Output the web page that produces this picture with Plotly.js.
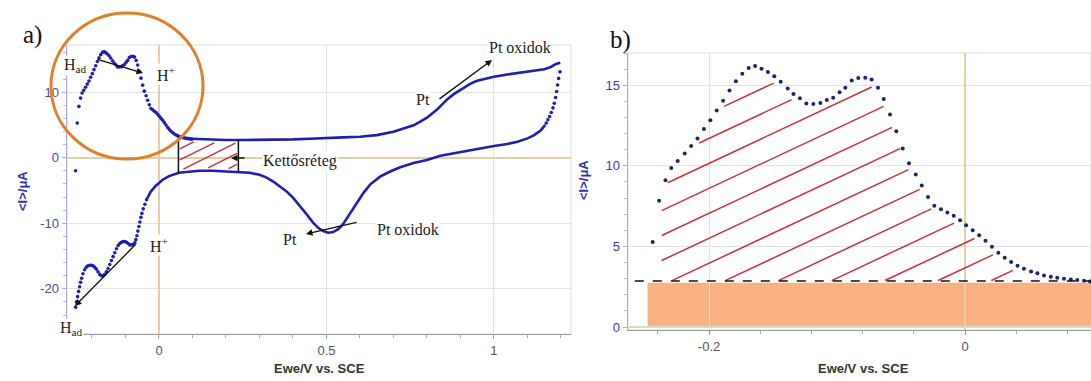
<!DOCTYPE html>
<html><head><meta charset="utf-8">
<script src="https://cdn.plot.ly/plotly-3.0.1.min.js"></script>
<style>html,body{margin:0;padding:0;background:#fff;}#chart{width:1091px;height:381px;}</style>
</head><body><div id="chart"></div>
<script>
// ---------- DATA ----------
// Hydrogen region of the anodic (upper) branch: V vs SCE, current in µA (panel b, also used in panel a)
const hUpV = [-0.244,-0.239,-0.234,-0.2295,-0.2245,-0.219,-0.214,-0.209,-0.204,-0.199,-0.194,-0.189,-0.184,-0.179,-0.174,-0.169,-0.164,-0.159,-0.154,-0.149,-0.144,-0.1385,-0.134,-0.129,-0.124,-0.1185,-0.113,-0.108,-0.103,-0.098,-0.0935,-0.0885,-0.0834,-0.078,-0.073,-0.068,-0.0635,-0.0586,-0.0537,-0.0487,-0.0438,-0.0385,-0.0338,-0.0289,-0.024,-0.0188,-0.0138,-0.0088,-0.0039,0.0008,0.006,0.011,0.016,0.021,0.026,0.031,0.036,0.041,0.046,0.0516,0.0565,0.0617,0.067,0.072,0.0773,0.0826,0.0877,0.093,0.0977];
const hUpI = [5.28,7.83,9.1,9.87,10.3,10.76,11.23,11.7,12.29,12.83,13.44,14.04,14.68,15.24,15.72,16.07,16.19,16.03,15.82,15.55,15.22,14.79,14.45,14.19,13.86,13.84,13.9,14.08,14.23,14.56,14.85,15.3,15.45,15.47,15.35,14.85,14.15,13.18,12.14,11.07,10.16,9.46,8.78,8.07,7.52,7.31,7.1,6.9,6.63,6.32,6.01,5.7,5.35,4.98,4.6,4.29,4.03,3.8,3.61,3.45,3.33,3.2,3.12,3.05,2.99,2.95,2.91,2.87,2.83];

// Panel a: first point after the reversal at the negative end
const aStartV = [-0.249];
const aStartI = [-2.0];
// Panel a: anodic branch, double layer + Pt oxide formation
const aUpV = [0.095,0.12,0.16,0.2,0.25,0.3,0.35,0.4,0.45,0.5,0.55,0.6,0.65,0.7,0.73,0.76,0.78,0.8,0.83,0.86,0.88,0.9,0.93,0.95,0.975,1.0,1.04,1.08,1.12,1.15,1.17,1.185,1.198];
const aUpI = [2.9,2.85,2.75,2.7,2.7,2.7,2.75,2.8,2.9,2.95,3.1,3.2,3.45,3.95,4.4,4.95,5.5,6.1,7.35,8.9,9.7,10.35,11.3,11.75,12.1,12.35,12.7,12.95,13.25,13.5,13.85,14.3,14.5];
// Panel a: points just after the positive reversal
const aTurnV = [1.197,1.193,1.19,1.187,1.184,1.18,1.176,1.171,1.166,1.161,1.156];
const aTurnI = [13.1,12.1,11.1,10.1,9.2,8.3,7.6,6.9,6.3,5.8,5.3];
// Panel a: cathodic branch (Pt oxide reduction, double layer)
const aDownV = [1.153,1.14,1.12,1.1,1.07,1.04,1.0,0.96,0.92,0.88,0.84,0.8,0.76,0.72,0.69,0.66,0.63,0.61,0.59,0.57,0.55,0.535,0.52,0.505,0.49,0.475,0.46,0.44,0.42,0.4,0.38,0.36,0.34,0.32,0.3,0.27,0.24,0.2,0.16,0.12,0.09,0.06,0.03,0.01,-0.01,-0.025,-0.035];
const aDownI = [5.0,4.2,3.45,2.95,2.45,2.1,1.8,1.4,1.05,0.7,0.3,-0.35,-0.8,-1.45,-2.1,-2.9,-4.1,-5.4,-7.0,-8.6,-10.1,-10.9,-11.35,-11.45,-11.2,-10.7,-9.9,-8.6,-7.3,-6.1,-5.1,-4.3,-3.6,-3.0,-2.6,-2.3,-2.2,-2.1,-2.0,-2.0,-2.1,-2.3,-2.8,-3.4,-4.3,-5.2,-6.2];
// Panel a: cathodic branch, hydrogen adsorption region
const aHdV = [-0.037,-0.042,-0.047,-0.051,-0.054,-0.057,-0.06,-0.063,-0.066,-0.069,-0.072,-0.077,-0.082,-0.087,-0.092,-0.097,-0.102,-0.107,-0.112,-0.117,-0.122,-0.127,-0.132,-0.137,-0.142,-0.147,-0.152,-0.157,-0.162,-0.167,-0.172,-0.177,-0.182,-0.187,-0.192,-0.197,-0.202,-0.207,-0.212,-0.217,-0.222,-0.227,-0.231,-0.234,-0.237,-0.24,-0.243,-0.246,-0.249];
const aHdI = [-6.4,-7.1,-7.8,-8.5,-9.1,-9.8,-10.5,-11.2,-11.9,-12.5,-13.0,-13.2,-13.3,-13.3,-13.1,-12.9,-12.8,-12.8,-12.9,-13.1,-13.4,-13.9,-14.5,-15.1,-15.7,-16.3,-16.9,-17.4,-17.8,-18.0,-18.0,-17.8,-17.4,-17.0,-16.7,-16.5,-16.4,-16.4,-16.5,-16.7,-17.1,-17.7,-18.4,-19.0,-19.7,-20.4,-21.2,-22.0,-22.8];

// Double-layer window (panel a) and baseline (panel b)
const dlWindow = [0.058, 0.237];
const baseI = 2.85;        // double-layer current level, µA
const bandTopI = 2.75;     // top of shaded double-layer charge band
const bandStartV = -0.248;
const baseStartV = -0.258;

// Tick labels
const aXTicks = [0, 0.5, 1], aXText = ['0','0.5','1'];
const aYTicks = [10, 0, -10, -20], aYText = ['10','0','-10','-20'];
const bXTicks = [-0.2, 0], bXText = ['-0.2','0'];
const bYTicks = [0, 5, 10, 15], bYText = ['0','5','10','15'];

// ---------- HELPERS ----------
const W = 1091, H = 381;
const px = x => x / W, py = y => 1 - y / H;
function interp(xs, ys, x) {
  const p = xs.map((v, i) => [v, ys[i]]).sort((a, b) => a[0] - b[0]);
  if (x <= p[0][0]) return p[0][1];
  for (let i = 1; i < p.length; i++) {
    if (x <= p[i][0]) { const t = (x - p[i-1][0]) / (p[i][0] - p[i-1][0]); return p[i-1][1] + t * (p[i][1] - p[i-1][1]); }
  }
  return p[p.length-1][1];
}
// diagonal hatch lines between two curves, built in screen-pixel space of an axis pair
function hatch(topFn, botFn, v0, v1, xs, ys, slope, spacing, anchor, mTop, mBot) {
  const X0 = v0 * xs, X1 = v1 * xs;
  const cA = anchor[1] * ys - slope * anchor[0] * xs;
  let lo = Infinity, hi = -Infinity;
  for (let X = X0; X <= X1; X += 0.5) {
    const V = X / xs;
    lo = Math.min(lo, botFn(V) * ys - slope * X);
    hi = Math.max(hi, topFn(V) * ys - slope * X);
  }
  const hx = [], hy = [];
  const k0 = Math.floor((lo - cA) / spacing) - 1, k1 = Math.ceil((hi - cA) / spacing) + 1;
  for (let k = k0; k <= k1; k++) {
    const c = cA + k * spacing;
    let seg = null;
    for (let X = X0; X <= X1 + 1e-9; X += 0.4) {
      const V = X / xs, Y = slope * X + c;
      const inside = Y > botFn(V) * ys + mBot && Y < topFn(V) * ys - mTop;
      if (inside) { if (!seg) seg = [[V, Y / ys]]; else seg[1] = [V, Y / ys]; }
      else if (seg) { if (seg[1]) { hx.push(seg[0][0], seg[1][0], null); hy.push(seg[0][1], seg[1][1], null); } seg = null; }
    }
    if (seg && seg[1]) { hx.push(seg[0][0], seg[1][0], null); hy.push(seg[0][1], seg[1][1], null); }
  }
  return [hx, hy];
}

const upAllV = hUpV.filter(v => v < aUpV[0]).concat(aUpV);
const upAllI = hUpI.filter((v, i) => hUpV[i] < aUpV[0]).concat(aUpI);
const upperFn = v => interp(upAllV, upAllI, v);
const lowerFn = v => interp(aDownV, aDownI, v);
const hUpFn = v => interp(hUpV, hUpI, v);

const [haX, haY] = hatch(upperFn, lowerFn, dlWindow[0] + 0.004, dlWindow[1] - 0.004, 335, 6.56, 0.5, 11, [0.0875, -1.37], 3, 3);
const [hbX, hbY] = hatch(hUpFn, v => baseI, -0.237, 0.098, 1280, 16.14, 0.47, 25, [-0.2297, baseI], 7, 0.5);

// ---------- TRACES ----------
const blue = '#1f1fb0', navy = '#1d2470', red = '#cf2f3c';
const traces = [
  {x: haX, y: haY, xaxis: 'x', yaxis: 'y', mode: 'lines', line: {color: red, width: 1.4}, hoverinfo: 'skip'},
  {x: aStartV.concat(hUpV), y: aStartI.concat(hUpI), xaxis: 'x', yaxis: 'y', mode: 'markers', marker: {color: blue, size: 3.6}},
  {x: aUpV, y: aUpI, xaxis: 'x', yaxis: 'y', mode: 'lines', line: {color: blue, width: 2.6}},
  {x: aTurnV, y: aTurnI, xaxis: 'x', yaxis: 'y', mode: 'markers', marker: {color: blue, size: 3.6}},
  {x: aDownV, y: aDownI, xaxis: 'x', yaxis: 'y', mode: 'lines', line: {color: blue, width: 2.6}},
  {x: aHdV, y: aHdI, xaxis: 'x', yaxis: 'y', mode: 'markers', marker: {color: blue, size: 3.6}},
  {x: hbX, y: hbY, xaxis: 'x2', yaxis: 'y2', mode: 'lines', line: {color: red, width: 1.5}, hoverinfo: 'skip'},
  {x: hUpV, y: hUpI, xaxis: 'x2', yaxis: 'y2', mode: 'markers', marker: {color: navy, size: 4}}
];

// ---------- LAYOUT ----------
const tickFontX = {family: 'Liberation Sans, Arial, sans-serif', size: 13, color: '#555'};
const tickFontY = {family: 'Liberation Sans, Arial, sans-serif', size: 13, color: '#4a4aa8'};
const serif = {family: 'Liberation Serif, Times New Roman, serif', size: 16, color: '#222'};
const gridC = '#e3e3e3', zeroC = '#e6cfa4';

const arrow = (tx, ty, hx, hy) => ({xref: 'paper', yref: 'paper', x: px(hx), y: py(hy), ax: tx - hx, ay: ty - hy,
  text: '', showarrow: true, arrowhead: 2, arrowsize: 1, arrowwidth: 1.3, arrowcolor: '#111', standoff: 0, startstandoff: 0});
const txt = (t, x, y, font, extra) => Object.assign({xref: 'paper', yref: 'paper', x: px(x), y: py(y), text: t, showarrow: false,
  xanchor: 'center', yanchor: 'middle', font: font}, extra || {});
const label = (t, x, y) => txt(t, x, y, serif, {bgcolor: '#ffffff', borderpad: 0});
const sansB = {family: 'Liberation Sans, Arial, sans-serif', size: 13, color: '#333'};
const yTitleFont = {family: 'Liberation Sans, Arial, sans-serif', size: 13, color: '#3030b0'};
const panelFont = {family: 'Liberation Serif, serif', size: 25, color: '#111'};

const layout = {
  width: W, height: H, margin: {l: 0, r: 0, t: 0, b: 0}, showlegend: false,
  paper_bgcolor: '#fff', plot_bgcolor: '#fff',
  xaxis: {domain: [px(67), px(571)], range: [-0.2746, 1.2299], anchor: 'y',
    tickmode: 'array', tickvals: aXTicks, ticktext: aXText, ticks: 'outside', ticklen: 4, tickcolor: '#999', tickfont: tickFontX,
    minor: {tick0: 0, dtick: 0.1, ticks: 'outside', ticklen: 3, tickcolor: '#aaa', showgrid: false},
    showline: true, linecolor: '#9a9a9a', linewidth: 1.2, showgrid: true, gridcolor: gridC,
    zeroline: true, zerolinecolor: zeroC, zerolinewidth: 1.6},
  yaxis: {domain: [1 - 334 / H, 1 - 45 / H], range: [-26.9, 17.2], anchor: 'x',
    tickmode: 'array', tickvals: aYTicks, ticktext: aYText, ticks: 'outside', ticklen: 4, tickcolor: '#a8a8e4', tickfont: tickFontY,
    minor: {tick0: 0, dtick: 2, ticks: 'outside', ticklen: 3, tickcolor: '#b8b8ea', showgrid: false},
    showline: true, linecolor: '#a8a8e4', linewidth: 1.5, showgrid: true, gridcolor: gridC,
    zeroline: true, zerolinecolor: zeroC, zerolinewidth: 1.6},
  xaxis2: {domain: [px(628), 1], range: [-0.2633, 0.0984], anchor: 'y2',
    tickmode: 'array', tickvals: bXTicks, ticktext: bXText, ticks: 'outside', ticklen: 4, tickcolor: '#999', tickfont: tickFontX,
    minor: {tick0: 0, dtick: 0.04, ticks: 'outside', ticklen: 3, tickcolor: '#aaa', showgrid: false},
    showline: true, linecolor: '#9a9a9a', linewidth: 1.2, showgrid: true, gridcolor: gridC,
    zeroline: true, zerolinecolor: zeroC, zerolinewidth: 1.6},
  yaxis2: {domain: [1 - 330 / H, 1 - 53 / H], range: [-0.186, 17.0], anchor: 'x2',
    tickmode: 'array', tickvals: bYTicks, ticktext: bYText, ticks: 'outside', ticklen: 4, tickcolor: '#a8a8e4',
    tickfont: {family: 'Liberation Sans, Arial, sans-serif', size: 13, color: '#3a3ab0'},
    minor: {tick0: 0, dtick: 1, ticks: 'outside', ticklen: 3, tickcolor: '#b8b8ea', showgrid: false},
    showline: true, linecolor: '#a8a8e4', linewidth: 1.5, showgrid: true, gridcolor: gridC,
    zeroline: true, zerolinecolor: '#cde3b8', zerolinewidth: 1.5},
  shapes: [
    {type: 'rect', xref: 'x domain', yref: 'y domain', x0: 0, x1: 1, y0: 0, y1: 1, line: {color: '#dedede', width: 1}, layer: 'below'},
    {type: 'rect', xref: 'x2 domain', yref: 'y2 domain', x0: 0, x1: 1, y0: 0, y1: 1, line: {color: '#dedede', width: 1}, layer: 'below'},
    {type: 'rect', xref: 'x2', yref: 'y2', x0: bandStartV, x1: 0.0984, y0: 0, y1: bandTopI, fillcolor: '#f9b083', line: {width: 0}, layer: 'below'},
    {type: 'line', xref: 'x2', yref: 'y2', x0: baseStartV, x1: 0.0984, y0: baseI, y1: baseI, line: {color: '#111', width: 1.5, dash: 'dash'}},
    {type: 'line', xref: 'x', yref: 'y', x0: dlWindow[0], x1: dlWindow[0], y0: lowerFn(dlWindow[0]), y1: upperFn(dlWindow[0]), line: {color: '#111', width: 1.5}},
    {type: 'line', xref: 'x', yref: 'y', x0: dlWindow[1], x1: dlWindow[1], y0: lowerFn(dlWindow[1]), y1: upperFn(dlWindow[1]), line: {color: '#111', width: 1.5}},
    {type: 'circle', xref: 'paper', yref: 'paper', x0: px(51), x1: px(203), y0: py(159), y1: py(13), line: {color: '#e07f2c', width: 3}}
  ],
  annotations: [
    arrow(96, 59, 143, 73),
    arrow(137, 243, 75, 306),
    arrow(246, 158, 231, 158),
    arrow(438, 100, 492, 60),
    arrow(358, 222, 306, 234),
    label('H<sub>ad</sub>', 75, 65),
    label('H<sup>+</sup>', 166, 74),
    label('Kettősréteg', 300, 161),
    label('Pt', 423, 99),
    label('Pt oxidok', 520, 47),
    label('Pt', 290, 239),
    label('Pt oxidok', 408, 229),
    label('H<sup>+</sup>', 159, 245),
    label('H<sub>ad</sub>', 71, 328),
    txt('a)', 32, 35, panelFont),
    txt('b)', 620, 40, panelFont),
    txt('<b>Ewe/V vs. SCE</b>', 319, 368, sansB),
    txt('<b>Ewe/V vs. SCE</b>', 863, 368, sansB),
    txt('<b>&lt;I&gt;/μA</b>', 22, 191, yTitleFont, {textangle: -90}),
    txt('<b>&lt;I&gt;/μA</b>', 583, 180, yTitleFont, {textangle: -90})
  ]
};

Plotly.newPlot('chart', traces, layout, {displayModeBar: false, staticPlot: true});
</script></body></html>
